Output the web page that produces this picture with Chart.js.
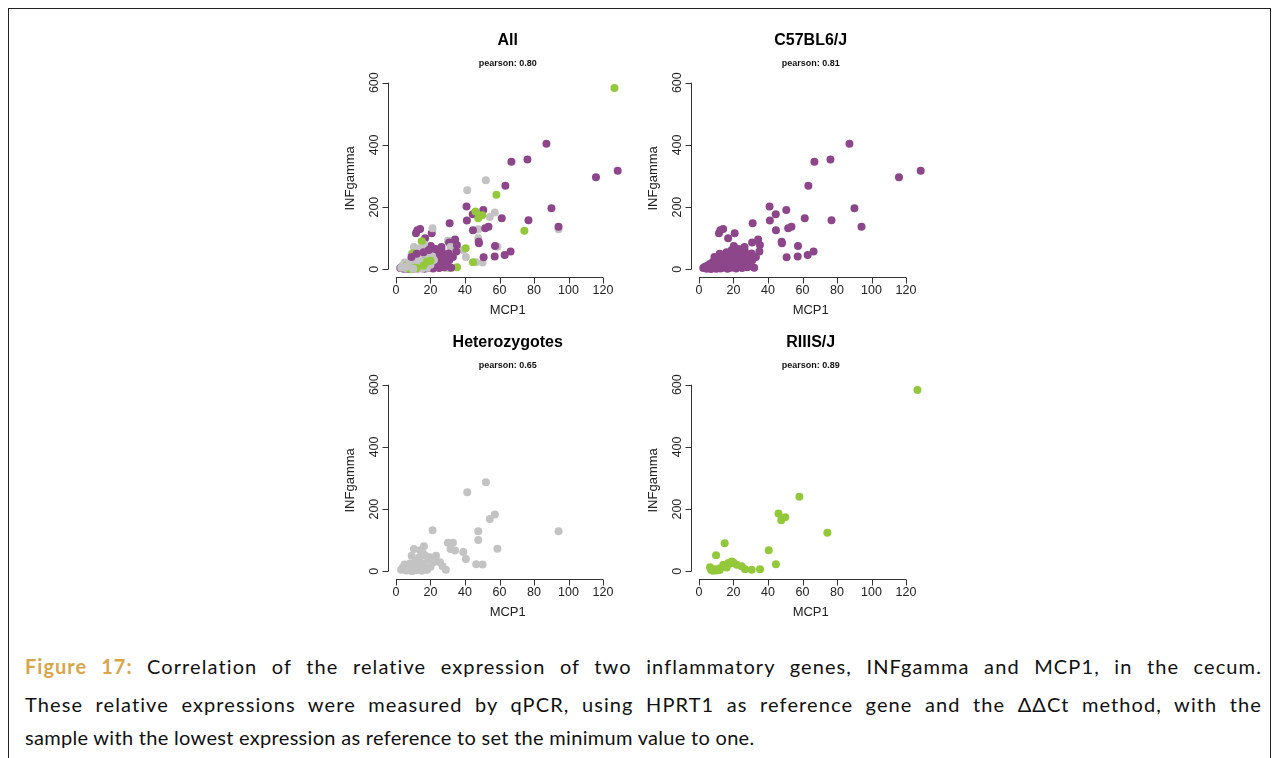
<!DOCTYPE html>
<html lang="en">
<head>
<meta charset="UTF-8">
<title>Figure 17</title>
<script src="https://cdn.jsdelivr.net/npm/chart.js"></script>
<style>
  body { margin: 0; background: #fff; width: 1278px; height: 758px; overflow: hidden; position: relative; }
  #moldura { position: absolute; left: 8px; top: 8px; width: 1261px; height: 770px; border: 1px solid #222; }
  .painel { position: absolute; }
  .linha { position: absolute; left: 25px; width: 1237px; font-family: "Lato", sans-serif; font-size: 20px; letter-spacing: 0.3px; color: #111; line-height: 24px; }
  .just { text-align: justify; text-align-last: justify; letter-spacing: 1.1px; }
  .fig { color: #d8a54c; font-weight: bold; letter-spacing: 1px; }
</style>
</head>
<body>
<div id="moldura"></div>

<canvas class="painel" id="gAll" width="303" height="300" style="left:330px; top:20px"></canvas>
<canvas class="painel" id="gC57" width="303" height="300" style="left:633px; top:20px"></canvas>
<canvas class="painel" id="gHet" width="303" height="300" style="left:330px; top:322px"></canvas>
<canvas class="painel" id="gRIII" width="303" height="300" style="left:633px; top:322px"></canvas>

<div class="linha just" style="top:654px"><span class="fig">Figure 17:</span> Correlation of the relative expression of two inflammatory genes, INFgamma and MCP1, in the cecum.</div>
<div class="linha just" style="top:692px">These relative expressions were measured by qPCR, using HPRT1 as reference gene and the ΔΔCt method, with the</div>
<div class="linha" style="top:725px">sample with the lowest expression as reference to set the minimum value to one.</div>

<script>
// valores (MCP1 no eixo x, INFgamma no eixo y)
var mcp1C57 = [87.2, 66.9, 76.2, 128.5, 115.9, 63.4, 40.9, 50.6, 44.5, 41.1, 61.3, 76.8, 90.1, 94.2, 31.1, 44.6, 51.7, 53.6, 47.9, 48.1,
  57.4, 12.4, 14.0, 11.6, 20.7, 16.9, 20.2, 30.8, 34.3, 35.3, 35.0, 50.8, 57.2, 63.0, 66.4, 26.4, 30.5,
  2.5, 3.5, 4.5, 5, 6, 6.5, 7, 7.5, 8, 8.5, 9, 9.5, 10, 10.5, 11, 11.5, 12, 12.5, 13, 13.5,
  14, 14.5, 15, 15.5, 16, 16.5, 17, 17.5, 18, 18.5, 19, 19.5, 20, 20.5, 21, 21.5, 22, 22.5, 23, 23.5,
  24, 24.5, 25, 25.5, 26, 26.5, 27, 28, 28.5, 29, 30, 31, 32, 33, 19, 23, 16, 12, 9, 28]
var infgC57 = [404, 346, 353, 317, 296, 269, 202, 191, 177, 157, 164, 158, 196, 137, 148, 126, 132, 137, 89, 84,
  75, 126, 130, 116, 116, 100, 75, 86, 96, 78, 57, 39, 41, 46, 57, 72, 51,
  4, 8, 2, 12, 5, 18, 1, 9, 24, 4, 14, 30, 2, 7, 20, 38, 11, 3, 28, 16,
  45, 6, 22, 35, 10, 2, 27, 48, 14, 5, 32, 20, 8, 42, 25, 3, 16, 55, 34, 9,
  21, 46, 4, 28, 13, 60, 38, 7, 22, 45, 12, 30, 5, 40, 62, 65, 55, 50, 40, 9]

var mcp1Het = [52.1, 41.3, 94.2, 57.3, 54.4, 47.7, 47.7, 58.8, 46.5, 50.2, 40.5, 39.0, 33.0, 30.1, 34.2, 31.6, 21.2, 16.2, 10.4, 9.1,
  23.2, 19.7, 25.5, 27.0, 28.9,
  3, 4, 5, 6, 7, 8, 9, 10, 11, 12, 13, 13.5, 14, 15, 15.5, 16, 17, 18, 19, 20, 12, 8, 17, 22, 21, 14, 6, 10]
var infgHet = [286, 254, 129, 183, 168, 129, 101, 73, 23, 22, 40, 62, 92, 92, 67, 72, 132, 81, 72, 50,
  50, 45, 29, 16, 5,
  5, 12, 22, 3, 15, 6, 1, 12, 28, 4, 18, 45, 8, 2, 60, 25, 10, 5, 38, 15, 35, 25, 50, 30, 42, 68, 8, 2]

var mcp1RIII = [126.6, 58.2, 74.4, 46.1, 47.7, 50.0, 40.4, 44.6, 35.4, 30.6, 26.7, 24.8, 21.9, 19.0, 17.0, 14.1, 14.9, 9.9, 12.2, 9.3,
  6.4, 7.0, 8.0, 10.0, 12.0, 16.0, 18.0, 20.0]
var infgRIII = [583, 240, 124, 186, 164, 174, 68, 23, 7, 5, 7, 16, 21, 32, 27, 21, 90, 52, 10, 7,
  13, 5, 2, 3, 4, 12, 25, 28]

var ticksX = [0, 20, 40, 60, 80, 100, 120]
var ticksY = [0, 200, 400, 600]

var corC57 = '#8d468a'
var corHet = '#c3c3c3'
var corRIII = '#94c83b'

function pontos(xs, ys) {
  var lista = []
  for (var i = 0; i < xs.length; i++) {
    lista.push({ x: xs[i], y: ys[i] })
  }
  return lista
}

// painel "All": os tres grupos misturados ao longo da ordem de desenho
var grupos = [[mcp1C57, infgC57, corC57], [mcp1Het, infgHet, corHet], [mcp1RIII, infgRIII, corRIII]]
var ordem = []
for (var g = 0; g < grupos.length; g++) {
  for (var i = 0; i < grupos[g][0].length; i++) {
    ordem.push({ t: (i + 0.5) / grupos[g][0].length, g: g, i: i })
  }
}
ordem.sort(function (a, b) { return a.t - b.t })
var pontosAll = []
var coresAll = []
for (var n = 0; n < ordem.length; n++) {
  var grp = grupos[ordem[n].g]
  pontosAll.push({ x: grp[0][ordem[n].i], y: grp[1][ordem[n].i] })
  coresAll.push(grp[2])
}

var fonte = '"Liberation Sans", Arial, sans-serif'

// eixos no estilo do R: linha so entre o primeiro e o ultimo tick
var eixosR = {
  id: 'eixosR',
  afterDraw: function (chart) {
    var ctx = chart.ctx
    var sx = chart.scales.x
    var sy = chart.scales.y
    var area = chart.chartArea
    ctx.save()
    ctx.strokeStyle = '#333'
    ctx.lineWidth = 1
    ctx.fillStyle = '#222'

    var yb = Math.round(area.bottom) + 0.5
    var xl = Math.round(area.left) + 0.5
    ctx.beginPath()
    ctx.moveTo(sx.getPixelForValue(ticksX[0]), yb)
    ctx.lineTo(sx.getPixelForValue(ticksX[ticksX.length - 1]), yb)
    for (var i = 0; i < ticksX.length; i++) {
      var p = Math.round(sx.getPixelForValue(ticksX[i])) + 0.5
      ctx.moveTo(p, yb)
      ctx.lineTo(p, yb + 6)
    }
    ctx.moveTo(xl, sy.getPixelForValue(ticksY[0]))
    ctx.lineTo(xl, sy.getPixelForValue(ticksY[ticksY.length - 1]))
    for (var j = 0; j < ticksY.length; j++) {
      var q = Math.round(sy.getPixelForValue(ticksY[j])) + 0.5
      ctx.moveTo(xl, q)
      ctx.lineTo(xl - 6, q)
    }
    ctx.stroke()

    ctx.font = '12.5px ' + fonte
    ctx.textAlign = 'center'
    ctx.textBaseline = 'middle'
    for (var k = 0; k < ticksX.length; k++) {
      ctx.fillText(String(ticksX[k]), sx.getPixelForValue(ticksX[k]), area.bottom + 14)
    }
    for (var m = 0; m < ticksY.length; m++) {
      ctx.save()
      ctx.translate(area.left - 13.5, sy.getPixelForValue(ticksY[m]))
      ctx.rotate(-Math.PI / 2)
      ctx.fillText(String(ticksY[m]), 0, 0)
      ctx.restore()
    }

    ctx.font = '13px ' + fonte
    ctx.fillText('MCP1', (area.left + area.right) / 2, area.bottom + 34)
    ctx.save()
    ctx.translate(area.left - 37.5, (area.top + area.bottom) / 2)
    ctx.rotate(-Math.PI / 2)
    ctx.fillText('INFgamma', 0, 0)
    ctx.restore()
    ctx.restore()
  }
}

function plotarPainel(id, titulo, pearson, dados, cores) {
  new Chart(document.getElementById(id), {
    type: 'scatter',
    data: {
      datasets: [{
        data: dados,
        backgroundColor: cores,
        pointBackgroundColor: cores,
        borderWidth: 0,
        pointRadius: 4,
        pointHoverRadius: 4
      }]
    },
    options: {
      responsive: false,
      animation: false,
      layout: { padding: { left: 58.2, right: 5.8, top: 0, bottom: 43.5 } },
      scales: {
        x: { type: 'linear', min: -4.5, max: 134, display: false },
        y: { type: 'linear', min: -23, max: 608, display: false }
      },
      plugins: {
        legend: { display: false },
        tooltip: { enabled: false },
        title: {
          display: true,
          text: titulo,
          color: '#000',
          font: { family: fonte, size: 16, weight: 'bold' },
          padding: { top: 11.4, bottom: 4 }
        },
        subtitle: {
          display: true,
          text: 'pearson: ' + pearson,
          color: '#111',
          font: { family: fonte, size: 9, weight: 'bold' },
          padding: { top: 3.3, bottom: 11.5 }
        }
      }
    },
    plugins: [eixosR]
  })
}

plotarPainel('gAll', 'All', '0.80', pontosAll, coresAll)
plotarPainel('gC57', 'C57BL6/J', '0.81', pontos(mcp1C57, infgC57), corC57)
plotarPainel('gHet', 'Heterozygotes', '0.65', pontos(mcp1Het, infgHet), corHet)
plotarPainel('gRIII', 'RIIIS/J', '0.89', pontos(mcp1RIII, infgRIII), corRIII)
</script>
</body>
</html>
